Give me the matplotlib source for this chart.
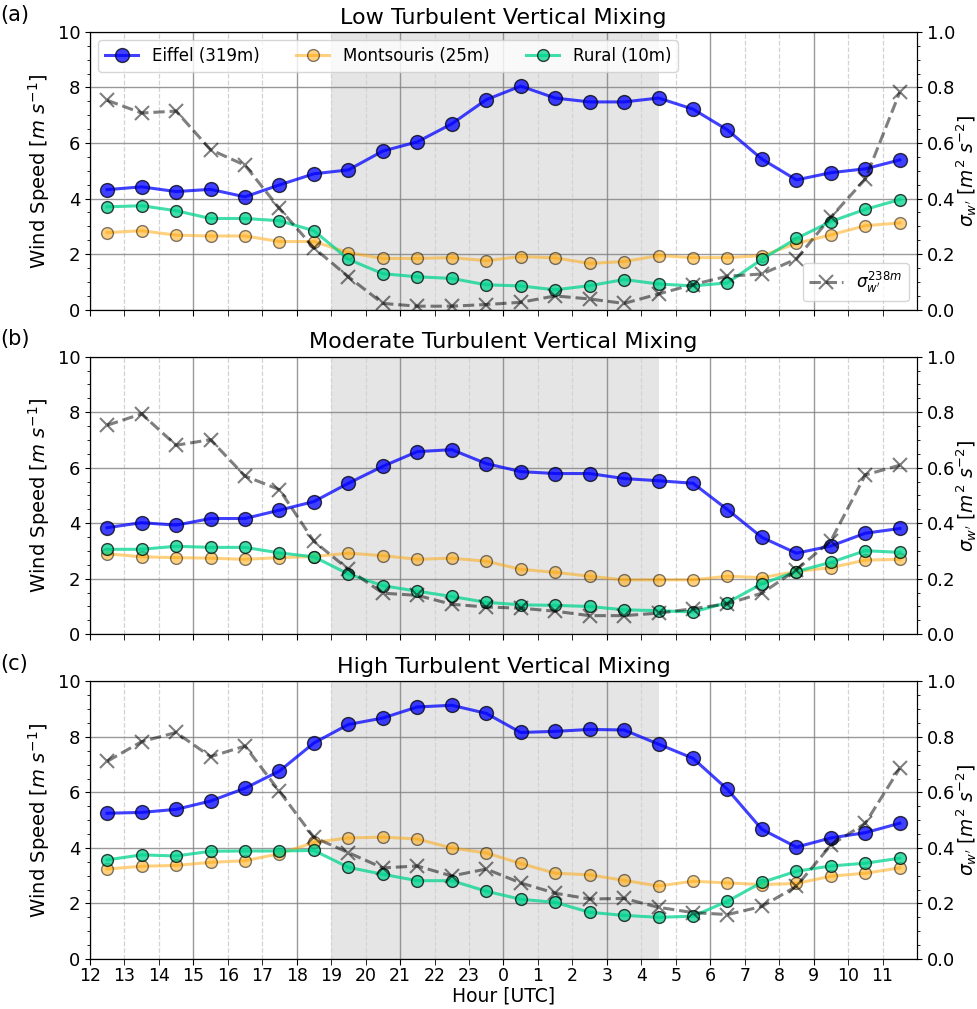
import matplotlib.pyplot as plt
import numpy as np
from matplotlib.ticker import MultipleLocator, FixedLocator


# hour axis: 12 UTC of day 1 to 12 UTC of day 2 (values > 24 are next day)
HOURS = [12.5, 13.5, 14.5, 15.5, 16.5, 17.5, 18.5, 19.5, 20.5, 21.5, 22.5, 23.5,
         24.5, 25.5, 26.5, 27.5, 28.5, 29.5, 30.5, 31.5, 32.5, 33.5, 34.5, 35.5]
TICK_HOURS = list(range(12, 36))
TICK_LABELS = [str(h % 24) for h in TICK_HOURS]
NIGHT_START = 19
NIGHT_END = 28.5

TITLES = [
    "Low Turbulent Vertical Mixing",
    "Moderate Turbulent Vertical Mixing",
    "High Turbulent Vertical Mixing",
]
PANEL_LABELS = ["(a)", "(b)", "(c)"]

EIFFEL = [
    [4.32, 4.42, 4.25, 4.33, 4.06, 4.49, 4.89, 5.03, 5.71, 6.04, 6.69, 7.56,
     8.05, 7.62, 7.48, 7.48, 7.62, 7.22, 6.47, 5.42, 4.67, 4.93, 5.07, 5.39],
    [3.84, 4.02, 3.93, 4.17, 4.17, 4.47, 4.78, 5.44, 6.05, 6.58, 6.65, 6.15,
     5.86, 5.79, 5.79, 5.61, 5.53, 5.44, 4.49, 3.49, 2.92, 3.18, 3.64, 3.81],
    [5.25, 5.28, 5.39, 5.69, 6.15, 6.77, 7.78, 8.45, 8.68, 9.08, 9.14, 8.85,
     8.16, 8.20, 8.27, 8.25, 7.74, 7.23, 6.11, 4.67, 4.03, 4.36, 4.55, 4.89],
]
MONTSOURIS = [
    [2.77, 2.84, 2.68, 2.65, 2.65, 2.45, 2.45, 2.05, 1.84, 1.84, 1.87, 1.76,
     1.91, 1.86, 1.66, 1.73, 1.94, 1.87, 1.87, 1.94, 2.38, 2.69, 3.02, 3.12],
    [2.90, 2.79, 2.76, 2.74, 2.70, 2.76, 2.80, 2.92, 2.83, 2.70, 2.74, 2.63,
     2.34, 2.23, 2.09, 1.96, 1.96, 1.96, 2.09, 2.04, 2.26, 2.40, 2.67, 2.70],
    [3.24, 3.34, 3.37, 3.48, 3.54, 3.79, 4.20, 4.36, 4.39, 4.32, 4.00, 3.82,
     3.44, 3.09, 3.03, 2.83, 2.63, 2.80, 2.74, 2.68, 2.72, 2.98, 3.09, 3.28],
]
RURAL = [
    [3.70, 3.74, 3.56, 3.28, 3.28, 3.20, 2.84, 1.81, 1.29, 1.18, 1.12, 0.89,
     0.85, 0.71, 0.86, 1.08, 0.92, 0.85, 0.96, 1.81, 2.56, 3.17, 3.61, 3.96],
    [3.06, 3.06, 3.17, 3.13, 3.13, 2.93, 2.79, 2.17, 1.75, 1.55, 1.36, 1.15,
     1.06, 1.04, 1.00, 0.88, 0.85, 0.80, 1.14, 1.82, 2.26, 2.59, 3.01, 2.95],
    [3.57, 3.75, 3.71, 3.88, 3.89, 3.89, 3.91, 3.30, 3.05, 2.82, 2.82, 2.44,
     2.15, 2.04, 1.68, 1.57, 1.50, 1.54, 2.08, 2.76, 3.16, 3.35, 3.45, 3.63],
]
SIGMA_W = [
    [0.754, 0.708, 0.715, 0.576, 0.520, 0.364, 0.222, 0.118, 0.022, 0.012, 0.012, 0.018,
     0.026, 0.049, 0.038, 0.022, 0.056, 0.090, 0.120, 0.128, 0.182, 0.333, 0.470, 0.783],
    [0.753, 0.794, 0.681, 0.701, 0.570, 0.521, 0.335, 0.234, 0.148, 0.140, 0.108, 0.098,
     0.094, 0.083, 0.067, 0.067, 0.076, 0.092, 0.110, 0.148, 0.232, 0.337, 0.574, 0.609],
    [0.712, 0.783, 0.816, 0.729, 0.767, 0.604, 0.438, 0.383, 0.328, 0.335, 0.299, 0.324,
     0.274, 0.237, 0.216, 0.218, 0.186, 0.167, 0.160, 0.189, 0.262, 0.410, 0.489, 0.687],
]


def dibujar_panel(ax, i):
    ax.axvspan(NIGHT_START, NIGHT_END, color="grey", alpha=0.2, lw=0, zorder=0)

    ax.plot(HOURS, EIFFEL[i], "-o", color="blue", alpha=0.75, lw=2.2, ms=10,
            mec="black", label="Eiffel (319m)", zorder=3)
    ax.plot(HOURS, MONTSOURIS[i], "-o", color="orange", alpha=0.5, lw=2.2, ms=8.5,
            mec="black", label="Montsouris (25m)", zorder=3)
    ax.plot(HOURS, RURAL[i], "-o", color="#00d48f", alpha=0.75, lw=2.2, ms=8.5,
            mec="black", label="Rural (10m)", zorder=3)

    ax.set_xlim(12, 36)
    ax.set_ylim(0, 10)
    # solid grid every 3 h, dashed in between
    ax.xaxis.set_major_locator(FixedLocator([h for h in TICK_HOURS if h % 3 == 0]))
    ax.xaxis.set_minor_locator(FixedLocator([h for h in TICK_HOURS if h % 3 != 0]))
    ax.yaxis.set_major_locator(MultipleLocator(2))
    ax.yaxis.set_minor_locator(MultipleLocator(0.5))
    ax.tick_params(axis="x", which="both", length=4)
    ax.tick_params(axis="y", which="major", labelsize=13)
    ax.grid(axis="both", which="major", color="grey", alpha=0.8, lw=1)
    ax.grid(axis="x", which="minor", color="lightgrey", ls="--", lw=0.9)
    ax.set_axisbelow(True)
    ax.set_ylabel("Wind Speed [$m\\ s^{-1}$]", fontsize=14)
    ax.set_title(TITLES[i], fontsize=16)
    ax.text(-0.108, 1.062, PANEL_LABELS[i], transform=ax.transAxes,
            fontsize=15, ha="left", va="center")

    ax2 = ax.twinx()
    ax2.plot(HOURS, SIGMA_W[i], "--x", color="black", alpha=0.5, lw=2.2, ms=10,
             mew=1.5, label="$\\sigma_{w'}^{238m}$")
    ax2.set_ylim(0, 1)
    ax2.yaxis.set_major_locator(MultipleLocator(0.2))
    ax2.yaxis.set_minor_locator(MultipleLocator(0.05))
    ax2.tick_params(axis="y", which="major", labelsize=13)
    ax2.set_ylabel("$\\sigma_{w'}$ [$m^2\\ s^{-2}$]", fontsize=13.5, labelpad=-1)
    return ax2


def main():
    fig, axes = plt.subplots(3, 1, figsize=(9.77, 10.09), dpi=100, sharex=True)
    fig.subplots_adjust(left=0.092, right=0.9386, bottom=0.0496, top=0.9683,
                        hspace=0.17)

    for i, ax in enumerate(axes):
        ax2 = dibujar_panel(ax, i)
        if i == 0:
            ax.legend(loc="upper left", ncol=3, fontsize=12, framealpha=0.8,
                      columnspacing=2.2)
            ax2.legend(loc="lower right", fontsize=12, framealpha=0.8)

    major_labels = [TICK_LABELS[k] for k, h in enumerate(TICK_HOURS) if h % 3 == 0]
    minor_labels = [TICK_LABELS[k] for k, h in enumerate(TICK_HOURS) if h % 3 != 0]
    axes[-1].xaxis.set_major_formatter(plt.FixedFormatter(major_labels))
    axes[-1].xaxis.set_minor_formatter(plt.FixedFormatter(minor_labels))
    axes[-1].tick_params(axis="x", which="both", labelsize=12.5, pad=2)
    axes[-1].set_xlabel("Hour [UTC]", fontsize=13.5, labelpad=1)

    fig.savefig("out.png", dpi=100)


if __name__ == "__main__":
    main()
